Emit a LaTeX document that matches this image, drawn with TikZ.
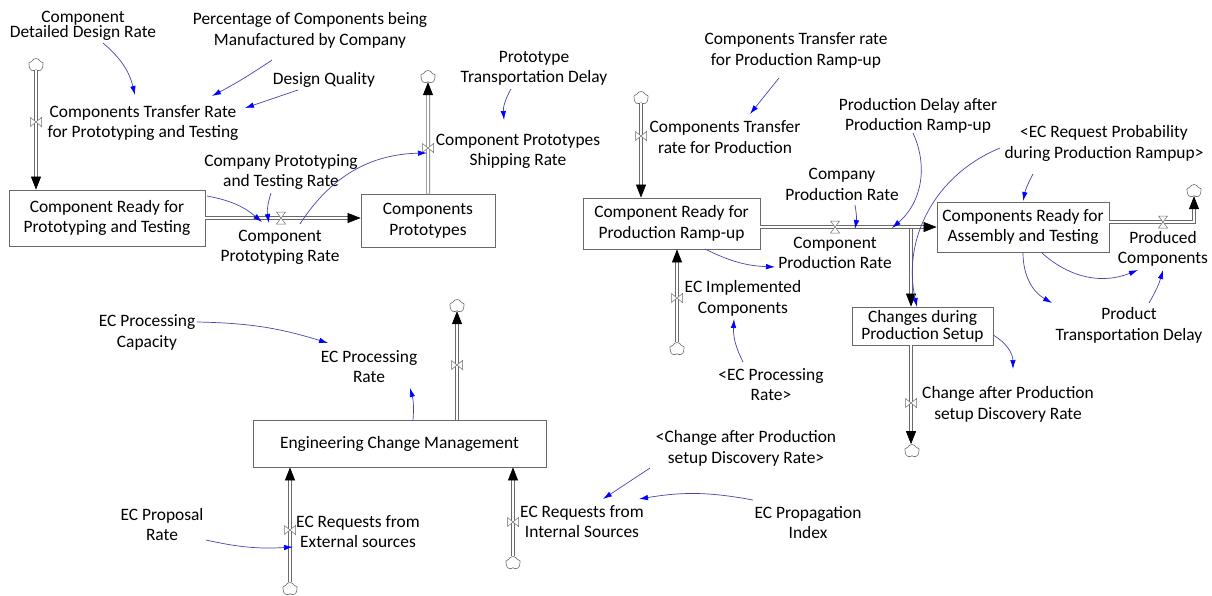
\documentclass[tikz,border=0pt]{standalone}
\usepackage{fontspec}
\setmainfont{Carlito}
\usetikzlibrary{arrows.meta,shapes.symbols,calc}
\definecolor{linkcol}{RGB}{70,70,170}
\definecolor{pipecol}{RGB}{105,105,105}
\begin{document}
\begin{tikzpicture}[x=1pt,y=-1pt,
  lbl/.style={font=\fontsize{17.4}{20.5}\selectfont, align=center, inner sep=1pt},
  stock/.style={draw=pipecol, line width=0.8pt, font=\fontsize{17.4}{20.5}\selectfont, align=center, inner sep=0pt, fill=white},
  pipe/.style={draw=pipecol, double=white, double distance=2.6pt, line width=0.7pt},
  pipetip/.style={-{Triangle[length=13pt,width=10pt,color=black,fill=black]}},
  link/.style={draw=linkcol, line width=0.7pt, -{Latex[length=9pt,width=5.5pt,color=blue,fill=blue]}},
  src/.style={cloud, cloud puffs=5, cloud puff arc=130, aspect=1.1, draw=pipecol, line width=0.6pt, minimum width=15pt, minimum height=13pt, inner sep=0pt, fill=white},
  valveh/.pic={\draw[draw=pipecol,fill=white,line width=0.5pt] (-4.5,-6) -- (4.5,-6) -- (-4.5,6) -- (4.5,6) -- cycle;},
  valvev/.pic={\draw[draw=pipecol,fill=white,line width=0.5pt] (-5.5,-4.5) -- (-5.5,4.5) -- (5.5,-4.5) -- (5.5,4.5) -- cycle;}
]
\fill[white] (0,0) rectangle (1212,595);
\useasboundingbox (0,0) rectangle (1212,595);

% stocks
\node[stock, minimum width=196pt, minimum height=56pt] (b1) at (107,218) {Component Ready for\\Prototyping and Testing};
\node[stock, minimum width=134pt, minimum height=53pt] (b2) at (428,220.5) {Components\\Prototypes};
\node[stock, minimum width=177pt, minimum height=51pt] (b3) at (671.5,223.5) {Component Ready for\\Production Ramp-up};
\node[stock, minimum width=172pt, minimum height=50pt] (b4) at (1023,227) {Components Ready for\\Assembly and Testing};
\node[stock, minimum width=141pt, minimum height=38pt] (b5) at (922.5,326) {Changes during\\[-3.5pt]Production Setup};
\node[stock, minimum width=293pt, minimum height=47pt] (b6) at (399.5,443.5) {Engineering Change Management};

% clouds
\node[src] (c1) at (36,65) {};
\node[src] (c2) at (428,77) {};
\node[src] (c3) at (641,98) {};
\node[src] (c4) at (677,349) {};
\node[src] (c5) at (1194,191) {};
\node[src] (c6) at (912,451) {};
\node[src] (c7) at (457,306) {};
\node[src] (c8) at (290,589) {};
\node[src] (c9) at (513,563) {};

% valve positions
\coordinate (v1) at (36,122);
\coordinate (v2) at (281,218);
\coordinate (v3) at (428,148);
\coordinate (v4) at (641,136);
\coordinate (v5) at (835,227);
\coordinate (v6) at (677,298);
\coordinate (v7) at (1163,222);
\coordinate (v8) at (911,403);
\coordinate (v9) at (457,365);
\coordinate (v10) at (290,530);
\coordinate (v11) at (513,522);
\coordinate (j) at (911,227);
\coordinate (e16) at (1052,303);
\coordinate (e18) at (1013,369);

% pipes
\draw[pipe,pipetip] (c1.south) -- (c1.south |- b1.north);
\draw[pipe,pipetip] (b1.east) -- (b1.east -| b2.west);
\draw[pipe,pipetip] (b2.north) -- (c2.south);
\draw[pipe,pipetip] (c3.south) -- (c3.south |- b3.north);
\draw[pipe,pipetip] (j) -- (j |- b5.north);
\draw[pipe,pipetip] (b3.east |- b4.west) -- (b4.west);
\draw[pipe,pipetip] (c4.north) -- (c4.north |- b3.south);
\draw[pipe,pipetip] ($(b4.east)+(0,-5)$) -- (c5.south |- v7) -- (c5.south);
\draw[pipe,pipetip] (j |- b5.south) -- (j |- c6.north);
\draw[pipe,pipetip] (b6.north -| c7.south) -- (c7.south);
\draw[pipe,pipetip] (c8.north) -- (c8.north |- b6.south);
\draw[pipe,pipetip] (c9.north) -- (c9.north |- b6.south);

% valves
\pic at (v1) {valvev};
\pic at (v2) {valveh};
\pic at (v3) {valvev};
\pic at (v4) {valvev};
\pic at (v5) {valveh};
\pic at (v6) {valvev};
\pic at (v7) {valveh};
\pic at (v8) {valvev};
\pic at (v9) {valvev};
\pic at (v10) {valvev};
\pic at (v11) {valvev};

% labels
\node[lbl] (t1) at (83,26) {Component\\[-5pt]Detailed Design Rate};
\node[lbl] (t2) at (310,30.5) {Percentage of Components being\\Manufactured by Company};
\node[lbl] (t3) at (324,80) {Design Quality};
\node[lbl] (t4) at (143,123) {Components Transfer Rate\\for Prototyping and Testing};
\node[lbl] (t5) at (281,172) {Company Prototyping\\and Testing Rate};
\node[lbl] (t6) at (280,247.5) {Component\\Prototyping Rate};
\node[lbl] (t7) at (534,68.5) {Prototype\\Transportation Delay};
\node[lbl] (t8) at (518,151.5) {Component Prototypes\\Shipping Rate};
\node[lbl] (t9) at (796,50.5) {Components Transfer rate\\for Production Ramp-up};
\node[lbl] (t10) at (725,137) {Components Transfer\\rate for Production};
\node[lbl] (t11) at (918,116) {Production Delay after\\Production Ramp-up};
\node[lbl] (t12) at (842,184.5) {Company\\Production Rate};
\node[lbl] (t13) at (835,253) {Component\\Production Rate};
\node[lbl] (t14) at (1104,143.5) {<EC Request Probability\\during Production Rampup>};
\node[lbl] (t15) at (1163,249) {Produced\\Components};
\node[lbl] (t16) at (1129,325.5) {Product\\Transportation Delay};
\node[lbl] (t17) at (743,298.5) {EC Implemented\\Components};
\node[lbl] (t18) at (771,384.5) {<EC Processing\\Rate>};
\node[lbl] (t19) at (1008,404.5) {Change after Production\\setup Discovery Rate};
\node[lbl] (t20) at (147,332.5) {EC Processing\\Capacity};
\node[lbl] (t21) at (369,366.5) {EC Processing\\Rate};
\node[lbl] (t22) at (162,524.5) {EC Proposal\\Rate};
\node[lbl] (t23) at (358,531.5) {EC Requests from\\External sources};
\node[lbl] (t24) at (582,521.5) {EC Requests from\\Internal Sources};
\node[lbl] (t25) at (746,448.5) {<Change after Production\\setup Discovery Rate>};
\node[lbl] (t26) at (808,522.5) {EC Propagation\\Index};

% information links
\draw[link] ($(t1)+(20,17)$) to[bend left=18] ($(t4)+(-8,-28)$);
\draw[link] ($(t2)+(-38,29.5)$) to[bend left=3] ($(t4)+(69,-27)$);
\draw[link] ($(t3)+(-26,10)$) to ($(t4)+(102,-15)$);
\draw[link] ($(t5)+(-10,21)$) to[bend right=14] ($(v2)+(-12,5)$);
\draw[link] ($(b1)+(100,-22)$) to[bend left=15] ($(v2)+(-19,4)$);
\draw[link] ($(v2)+(19,6)$) to[bend left=28] ($(v3)+(-1,5)$);
\draw[link] ($(t7)+(-23,20.5)$) to[bend right=17] ($(t8)+(-14,-31.5)$);
\draw[link] ($(t9)+(-17,27.5)$) to ($(t10)+(25,-23)$);
\draw[link] ($(t11)+(-5,17)$) to[bend left=37] ($(v5)+(57,1)$);
\draw[link] ($(t12)+(13,20.5)$) to[bend left=10] ($(v5)+(20,2)$);
\draw[link] ($(b3)+(33.5,25.5)$) to[bend right=12] ($(t13)+(-60,14)$);
\draw[link] ($(t18)+(-28,-22.5)$) to[bend left=15] ($(t17)+(-9,20.5)$);
\draw[link] ($(t14)+(-104,4.5)$) to[bend right=40] ($(b5)+(-5.5,-19)$);
\draw[link] ($(t14)+(-71,30.5)$) to[bend right=8] ($(b4)+(0,-26)$);
\draw[link] ($(b4)+(19,26)$) to[bend right=32] ($(t15)+(-25,21)$);
\draw[link] ($(b4)+(0,26)$) to[bend right=30] (e16);
\draw[link] ($(t16)+(20,-22.5)$) to[bend right=7] ($(t15)+(0,21)$);
\draw[link] ($(b5)+(70.5,9)$) to[bend left=30] (e18);
\draw[link] ($(t20)+(50,-10.5)$) to[bend left=8] ($(t21)+(-41,-23.5)$);
\draw[link] ($(b6)+(13.5,-23.5)$) to[bend right=10] ($(t21)+(41,21.5)$);
\draw[link] ($(t22)+(44,15.5)$) to[bend right=8] ($(v10)+(3,17)$);
\draw[link] ($(t25)+(-96,19.5)$) to ($(t24)+(21,-22.5)$);
\draw[link] ($(t26)+(-55,-22.5)$) to[bend right=10] ($(t24)+(57,-22.5)$);
\end{tikzpicture}
\end{document}
